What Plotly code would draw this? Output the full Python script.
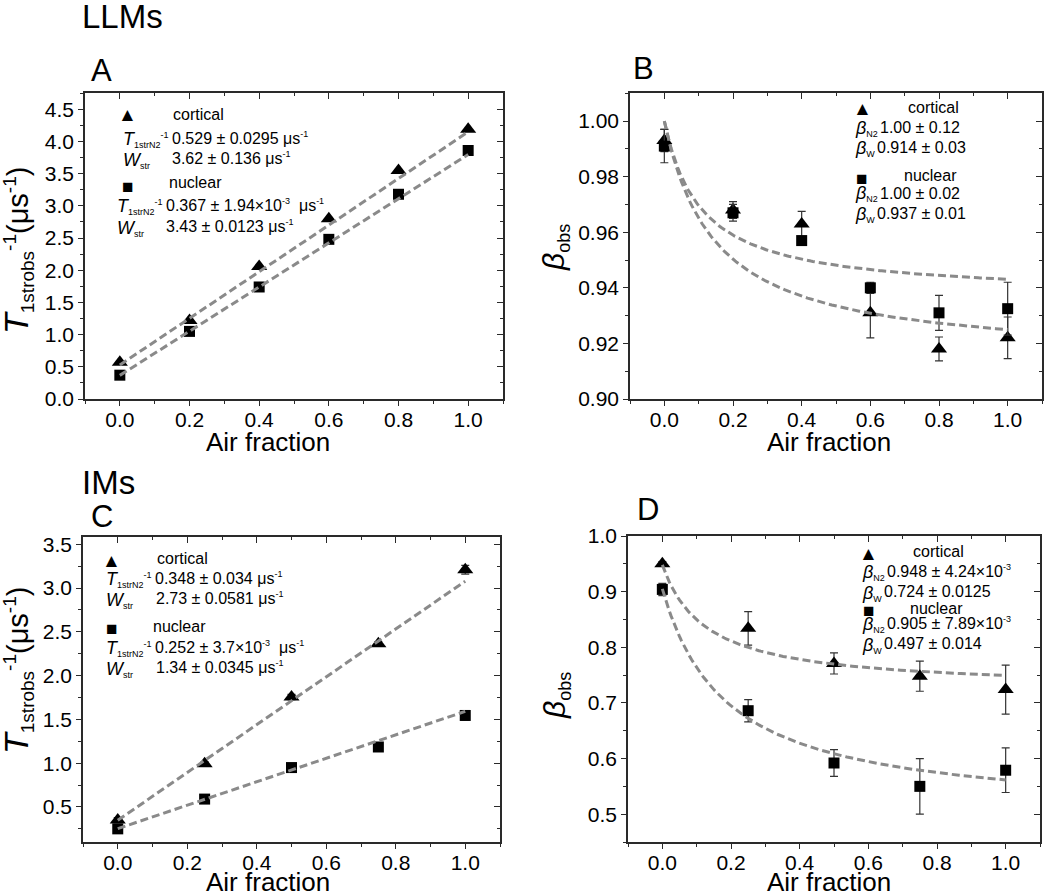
import numpy as np
import plotly.graph_objects as go

# ---------------- data ----------------
air_AB = [0.0, 0.2, 0.4, 0.6, 0.8, 1.0]
air_CD = [0.0, 0.25, 0.5, 0.75, 1.0]

# Panel A (LLMs, T1strobs^-1, us^-1)
A_cortical = [0.57, 1.22, 2.06, 2.80, 3.55, 4.19]
A_nuclear = [0.37, 1.05, 1.74, 2.48, 3.18, 3.86]
# fit parameters: T1strN2^-1, Wstr
A_fit_cortical = [0.529, 3.62]
A_fit_nuclear = [0.367, 3.43]

# Panel B (LLMs, beta_obs)
B_cortical = [0.993, 0.968, 0.963, 0.931, 0.918, 0.922]
B_cortical_err = [0.004, 0.003, 0.0045, 0.009, 0.0043, 0.0075]
B_nuclear = [0.991, 0.967, 0.957, 0.940, 0.931, 0.9325]
B_nuclear_err = [0.006, 0.003, 0.001, 0.002, 0.0063, 0.0095]
# fit parameters: beta_N2, beta_W
B_fit_cortical = [1.00, 0.914]
B_fit_nuclear = [1.00, 0.937]

# Panel C (IMs, T1strobs^-1)
C_cortical = [0.35, 0.995, 1.755, 2.365, 3.21]
C_cortical_err = [0.03, 0.02, 0.03, 0.02, 0.05]
C_nuclear = [0.25, 0.59, 0.95, 1.185, 1.545]
C_nuclear_err = [0.02, 0.02, 0.02, 0.02, 0.05]
C_fit_cortical = [0.348, 2.73]
C_fit_nuclear = [0.252, 1.34]

# Panel D (IMs, beta_obs)
D_cortical = [0.950, 0.834, 0.771, 0.748, 0.724]
D_cortical_err = [0.004, 0.030, 0.019, 0.027, 0.044]
D_nuclear = [0.904, 0.686, 0.592, 0.550, 0.579]
D_nuclear_err = [0.011, 0.020, 0.024, 0.050, 0.040]
D_fit_cortical = [0.948, 0.724]
D_fit_nuclear = [0.905, 0.497]

# ---------------- styling ----------------
W, H = 1050, 894
FONT = "Liberation Sans, Arial, Helvetica, sans-serif"
FRAME = "#2a2a2a"
FIT_COLOR = "#8a8a8a"


def px_x(x):
    return x / W


def px_y(y):
    return 1 - y / H


fig = go.Figure()


def linear_fit(params):
    xs = np.array([0.0, 1.0])
    return xs, params[0] + params[1] * xs


def beta_fit(rate_params, beta_params):
    xs = np.linspace(0.0, 1.0, 200)
    t, w = rate_params
    bn2, bw = beta_params
    return xs, (t * bn2 + w * xs * bw) / (t + w * xs)


def add_points(x, y, err, symbol, size, ax):
    fig.add_trace(go.Scatter(
        x=x, y=y, mode="markers", xaxis="x" + ax, yaxis="y" + ax,
        marker=dict(symbol=symbol, size=size, color="black",
                    line=dict(width=0)),
        error_y=(dict(type="data", array=err, visible=True, color="#333333",
                      thickness=1.2, width=4) if err is not None else None),
        showlegend=False, hoverinfo="skip"))


def add_fit(x, y, ax):
    fig.add_trace(go.Scatter(
        x=x, y=y, mode="lines", xaxis="x" + ax, yaxis="y" + ax,
        line=dict(color=FIT_COLOR, width=3, dash="8px,4px"),
        showlegend=False, hoverinfo="skip"))


TRI, SQ = 14, 11
# Panel A
add_points(air_AB, A_cortical, None, "triangle-up", TRI, "")
add_points(air_AB, A_nuclear, None, "square", SQ, "")
add_fit(*linear_fit(A_fit_cortical), "")
add_fit(*linear_fit(A_fit_nuclear), "")
# Panel B
add_points(air_AB, B_cortical, B_cortical_err, "triangle-up", TRI, "2")
add_points(air_AB, B_nuclear, B_nuclear_err, "square", SQ, "2")
add_fit(*beta_fit(A_fit_cortical, B_fit_cortical), "2")
add_fit(*beta_fit(A_fit_nuclear, B_fit_nuclear), "2")
# Panel C
add_points(air_CD, C_cortical, C_cortical_err, "triangle-up", TRI, "3")
add_points(air_CD, C_nuclear, C_nuclear_err, "square", SQ, "3")
add_fit(*linear_fit(C_fit_cortical), "3")
add_fit(*linear_fit(C_fit_nuclear), "3")
# Panel D
add_points(air_CD, D_cortical, D_cortical_err, "triangle-up", TRI, "4")
add_points(air_CD, D_nuclear, D_nuclear_err, "square", SQ, "4")
add_fit(*beta_fit(C_fit_cortical, D_fit_cortical), "4")
add_fit(*beta_fit(C_fit_nuclear, D_fit_nuclear), "4")

# panel frames in screen pixels: (left, right, top, bottom)
frames = {
    "": (85, 503, 93, 399),
    "2": (630, 1042, 93, 399),
    "3": (83, 500, 537, 842),
    "4": (628, 1040, 536, 842),
}
yranges = {"": [0, 4.753], "2": [0.9, 1.0101], "3": [0.1, 3.583], "4": [0.45, 1.0]}
ydticks = {"": (0.5, 0.25), "2": (0.02, 0.01), "3": (0.5, 0.25), "4": (0.1, 0.05)}
ytick0 = {"": 0, "2": 0.9, "3": 0.0, "4": 0.5}

layout = dict(
    width=W, height=H, margin=dict(l=0, r=0, t=0, b=0, pad=0, autoexpand=False),
    paper_bgcolor="white", plot_bgcolor="white",
    font=dict(family=FONT, color="black"),
)

TICKFONT = dict(size=21, family=FONT, color="black")
for i, (key, (l, r, t, b)) in enumerate(frames.items()):
    xname = "xaxis" + key
    yname = "yaxis" + key
    ov = str(5 + i)
    xd = [px_x(l), px_x(r)]
    yd = [px_y(b), px_y(t)]
    dt, mdt = ydticks[key]
    layout[xname] = dict(
        domain=xd, anchor="y" + key, range=[-0.1, 1.1], automargin=False,
        tickmode="linear", tick0=0, dtick=0.2, tickformat=".1f",
        ticks="outside", ticklen=5, tickwidth=1.3, tickcolor=FRAME,
        ticklabelstandoff=-4,
        minor=dict(ticks="outside", ticklen=3, dtick=0.1, tick0=0, tickcolor=FRAME, tickwidth=1.2),
        showline=True, linecolor=FRAME, linewidth=1.5, mirror=True,
        showgrid=False, zeroline=False, tickfont=TICKFONT,
    )
    layout[yname] = dict(
        domain=yd, anchor="x" + key, range=yranges[key], automargin=False,
        tickmode="linear", tick0=ytick0[key], dtick=dt,
        tickformat=(".2f" if key == "2" else ".1f"),
        ticks="outside", ticklen=5, tickwidth=1.3, tickcolor=FRAME,
        minor=dict(ticks="outside", ticklen=3, dtick=mdt, tick0=ytick0[key], tickcolor=FRAME, tickwidth=1.2),
        showline=True, linecolor=FRAME, linewidth=1.5, mirror=True,
        showgrid=False, zeroline=False, tickfont=TICKFONT,
    )
    # mirrored axes carrying inward ticks on top and right
    layout["xaxis" + ov] = dict(
        overlaying="x" + key, anchor="y" + ov, side="top", range=[-0.1, 1.1],
        automargin=False,
        tickmode="linear", tick0=0, dtick=0.2, ticks="inside", ticklen=6,
        tickwidth=1.3, tickcolor=FRAME, showticklabels=False,
        minor=dict(ticks="inside", ticklen=3, dtick=0.1, tick0=0, tickcolor=FRAME, tickwidth=1.2),
        showline=False, showgrid=False, zeroline=False,
    )
    layout["yaxis" + ov] = dict(
        overlaying="y" + key, anchor="x" + ov, side="right", range=yranges[key],
        automargin=False,
        tickmode="linear", tick0=ytick0[key], dtick=dt, ticks="inside", ticklen=6,
        tickwidth=1.3, tickcolor=FRAME, showticklabels=False,
        minor=dict(ticks="inside", ticklen=3, dtick=mdt, tick0=ytick0[key], tickcolor=FRAME, tickwidth=1.2),
        showline=False, showgrid=False, zeroline=False,
    )
    fig.add_trace(go.Scatter(x=[None], y=[None], xaxis="x" + ov, yaxis="y" + ov,
                             mode="markers", showlegend=False, hoverinfo="skip"))

fig.update_layout(**layout)

annotations = []


def ann(text, x, y, size=16, xanchor="left", yanchor="middle", angle=0):
    annotations.append(dict(
        text=text, x=px_x(x), y=px_y(y), xref="paper", yref="paper",
        xanchor=xanchor, yanchor=yanchor, showarrow=False, textangle=angle,
        font=dict(size=size, family=FONT, color="black")))


SUB = "<sub><span style='font-size:9px'>{}</span></sub>"
SUP = "<sup><span style='font-size:9px'>{}</span></sup>"
T_LBL = "<span style='font-size:18px'><i>T</i></span>" + SUB.format("1strN2") + SUP.format("-1")
W_LBL = "<span style='font-size:18px'><i>W</i></span>" + SUB.format("str")
BN2_LBL = "<span style='font-size:18px'><i>β</i></span>" + SUB.format("N2")
BW_LBL = "<span style='font-size:18px'><i>β</i></span>" + SUB.format("W")
US = "μs" + SUP.format("-1")

# headings
ann("LLMs", 122, 17, 33, "center")
ann("IMs", 108, 482, 33, "center")
ann("A", 101, 71, 31, "center")
ann("B", 643, 68, 31, "center")
ann("C", 102, 516, 31, "center")
ann("D", 648, 509, 31, "center")

# axis titles
for yx in (442, 882):
    ann("Air fraction", 268, yx, 26, "center")
    ann("Air fraction", 829, yx, 26, "center")
T_AX = ("<span style='font-size:34px'><i>T</i></span><sub><span style='font-size:19px'>1strobs</span></sub>"
        "<sup><span style='font-size:19px'>-1</span></sup>(μs<sup><span style='font-size:19px'>-1</span></sup>)")
B_AX = "<span style='font-size:30px'><i>β</i></span><sub><span style='font-size:18px'>obs</span></sub>"
ann(T_AX, 17, 251, 29, "center", "middle", -90)
ann(T_AX, 17, 671, 29, "center", "middle", -90)
ann(B_AX, 556, 248, 27, "center", "middle", -90)
ann(B_AX, 556, 696, 27, "center", "middle", -90)

MK = 19
# legend blocks
# Panel A
ann("▲", 127, 115, MK, "center")
ann("cortical", 171, 114)
ann(T_LBL, 121, 139)
ann("0.529 ± 0.0295 " + US, 170, 138)
ann(W_LBL, 121, 160)
ann("3.62 ± 0.136 " + US, 170, 158)
ann("■", 127, 186, MK, "center")
ann("nuclear", 167, 183)
ann(T_LBL, 115, 206)
ann("0.367 ± 1.94×10" + SUP.format("-3") + "  " + US, 164, 205)
ann(W_LBL, 115, 228)
ann("3.43 ± 0.0123 " + US, 164, 226)
# Panel B
ann("▲", 862, 108, MK, "center")
ann("cortical", 906, 107)
ann(BN2_LBL, 853, 129)
ann("1.00 ± 0.12", 878, 128)
ann(BW_LBL, 853, 149)
ann("0.914 ± 0.03", 875, 147)
ann("■", 861, 178, MK, "center")
ann("nuclear", 902, 176)
ann(BN2_LBL, 853, 194)
ann("1.00 ± 0.02", 878, 193)
ann(BW_LBL, 853, 215)
ann("0.937 ± 0.01", 875, 213)
# Panel C
ann("▲", 111, 560, MK, "center")
ann("cortical", 155, 558)
ann(T_LBL, 104, 579)
ann("0.348 ± 0.034 " + US, 153, 578)
ann(W_LBL, 104, 600)
ann("2.73 ± 0.0581 " + US, 154, 598)
ann("■", 111, 628, MK, "center")
ann("nuclear", 151, 626)
ann(T_LBL, 104, 648)
ann("0.252 ± 3.7×10" + SUP.format("-3") + "  " + US, 153, 647)
ann(W_LBL, 104, 669)
ann("1.34 ± 0.0345 " + US, 154, 667)
# Panel D
ann("▲", 868, 553, MK, "center")
ann("cortical", 911, 551)
ann(BN2_LBL, 860, 572)
ann("0.948 ± 4.24×10" + SUP.format("-3"), 885, 571)
ann(BW_LBL, 860, 593)
ann("0.724 ± 0.0125", 882, 591)
ann("■", 868, 610, MK, "center")
ann("nuclear", 908, 608)
ann(BN2_LBL, 860, 624)
ann("0.905 ± 7.89×10" + SUP.format("-3"), 885, 623)
ann(BW_LBL, 860, 645)
ann("0.497 ± 0.014", 882, 643)

fig.update_layout(annotations=annotations)
# remove the default page margin so the figure starts at the window's corner
fig.write_html("out.html", config={"displayModeBar": False},
               post_script="document.body.style.margin='0px';")
